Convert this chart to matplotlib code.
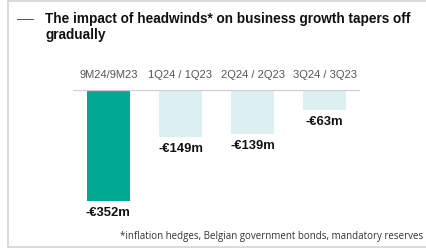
import matplotlib.pyplot as plt
from matplotlib.lines import Line2D

categories = ["9M24/9M23", "1Q24 / 1Q23", "2Q24 / 2Q23", "3Q24 / 3Q23"]
values = [-352, -149, -139, -63]
labels = ["-€352m", "-€149m", "-€139m", "-€63m"]
colors = ["#00a98f", "#dcf0f1", "#dcf0f1", "#dcf0f1"]

W, H = 427, 248
fig = plt.figure(figsize=(W / 100, H / 100), dpi=100)
fig.patch.set_facecolor("white")

# panel border (left, top, bottom)
border = "#d4d4d4"
fig.add_artist(Line2D([8 / W, 8 / W], [0, 1], color=border, lw=1.2))
fig.add_artist(Line2D([8 / W, 1], [1 - 1 / H, 1 - 1 / H], color=border, lw=1.2))
fig.add_artist(Line2D([8 / W, 1], [1 / H, 1 / H], color=border, lw=1.2))

# title with dash
fig.add_artist(Line2D([17 / W, 33 / W], [1 - 19 / H, 1 - 19 / H], color="#555555", lw=0.7))
fig.text(45 / W, 1 - 12 / H, "The impact of headwinds* on business growth tapers off\ngradually",
         ha="left", va="top", fontsize=9.8, fontweight="bold", family="Liberation Sans",
         color="#111111", linespacing=1.15)

# bar axes: baseline at y=90px, -352 at y=201px
ax = fig.add_axes([73 / W, 1 - 201 / H, 287 / W, 111 / H])
ax.bar(range(len(values)), values, width=0.6, color=colors)
ax.set_xlim(-0.49, 3.49)
ax.set_ylim(-352, 0)
ax.axis("off")
ax.axhline(0, color="#d0d0d0", lw=0.9)

for i, (v, lab, cat) in enumerate(zip(values, labels, categories)):
    ax.annotate(lab, (i, v), xytext=(0, -8.8), textcoords="offset points",
                ha="center", va="center", fontsize=9.4, fontweight="bold",
                family="Liberation Sans", color="#111111")
    ax.annotate(cat, (i, 0), xytext=(0, 10.5), textcoords="offset points",
                ha="center", va="center", fontsize=8.0, family="Liberation Sans",
                color="#555555", annotation_clip=False)

fig.text(423 / W, 1 - 237 / H, "*inflation hedges, Belgian government bonds, mandatory reserves",
         ha="right", va="center", fontsize=7.05, family="Open Sans", color="#333333")

fig.savefig("out.png", dpi=100)
